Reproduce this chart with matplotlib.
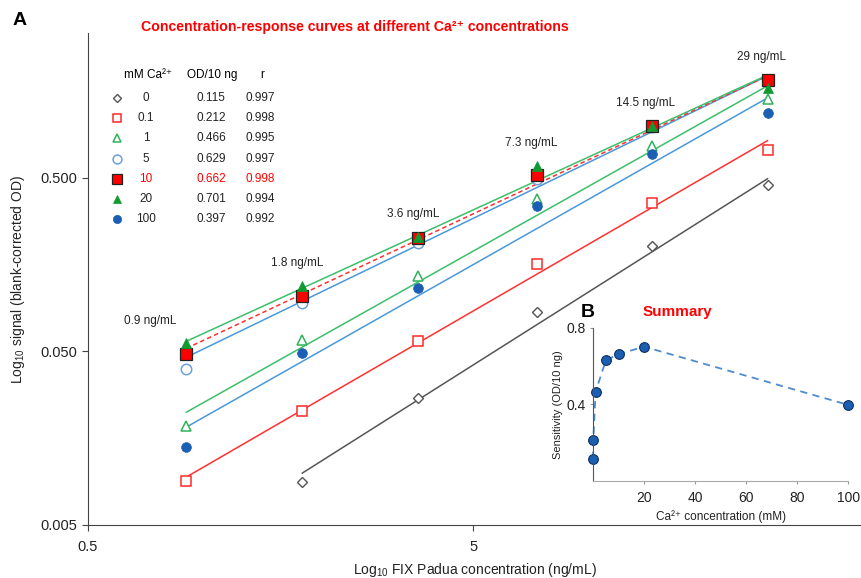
import matplotlib
matplotlib.use('Agg')
import matplotlib.pyplot as plt
import numpy as np

plt.rcParams['font.family'] = ['Liberation Sans', 'DejaVu Sans']
plt.rcParams['mathtext.fontset'] = 'custom'
plt.rcParams['mathtext.rm'] = 'Liberation Sans'
plt.rcParams['mathtext.it'] = 'Liberation Sans'

CA = 'Ca\u00b2\u207a'

# FIX Padua concentrations (ng/mL)
conc = [0.9, 1.8, 3.6, 7.3, 14.5, 29]
conc_labels = ['0.9 ng/mL', '1.8 ng/mL', '3.6 ng/mL', '7.3 ng/mL', '14.5 ng/mL', '29 ng/mL']

# mM Ca2+ groups
ca_mM = ['0', '0.1', '1', '5', '10', '20', '100']
od10 = ['0.115', '0.212', '0.466', '0.629', '0.662', '0.701', '0.397']
r_val = ['0.997', '0.998', '0.995', '0.997', '0.998', '0.994', '0.992']

# blank-corrected OD (None = no point)
sig_0 = [None, 0.0088, 0.0269, 0.0838, 0.203, 0.456]
sig_01 = [0.00895, 0.0226, 0.0571, 0.160, 0.359, 0.724]
sig_1 = [0.0185, 0.0578, 0.135, 0.378, 0.764, 1.42]
sig_5 = [0.0394, 0.0944, 0.209, 0.490, 0.982, 1.80]
sig_10 = [0.0480, 0.1036, 0.226, 0.520, 0.995, 1.83]
sig_20 = [0.0556, 0.1197, 0.229, 0.586, 0.995, 1.64]
sig_100 = [0.01404, 0.0487, 0.1151, 0.345, 0.687, 1.18]

# regression line ends (signal at first and last concentration)
fit_x0 = [1.8, 0.9, 0.9, 0.9, 0.9, 0.9, 0.9]
fit_0 = [0.00995, 0.00944, 0.0223, 0.0462, 0.0520, 0.0571, 0.0183]
fit_29 = [0.493, 0.817, 1.69, 1.93, 1.93, 1.95, 1.44]

# summary: sensitivity vs Ca2+
ca_num = [0, 0.1, 1, 5, 10, 20, 100]
sens = [0.115, 0.212, 0.466, 0.629, 0.662, 0.701, 0.397]

signals = [sig_0, sig_01, sig_1, sig_5, sig_10, sig_20, sig_100]
styles = [
    dict(marker='D', ms=5, mfc='white', mec='#555555', mew=1.0),
    dict(marker='s', ms=7.5, mfc='white', mec='#ff2a2a', mew=1.1),
    dict(marker='^', ms=7.5, mfc='white', mec='#2eb35a', mew=1.1),
    dict(marker='o', ms=7.5, mfc='white', mec='#6e9fd6', mew=1.1),
    dict(marker='s', ms=8, mfc='#ff0000', mec='#222222', mew=0.9),
    dict(marker='^', ms=7.5, mfc='#109a30', mec='#109a30', mew=0.5),
    dict(marker='o', ms=7, mfc='#1a5fb4', mec='#1a5fb4', mew=0.5),
]
line_cols = ['#555555', '#ff3030', '#3cbf6a', '#4a98dc', '#ff3030', '#3cbf6a', '#4a98dc']
line_ls = ['-', '-', '-', '-', (0, (3, 2)), '-', '-']

fig = plt.figure(figsize=(8.62, 5.78), dpi=100)
ax = fig.add_axes([0.102, 0.0917, 0.898, 0.851])

for i in range(len(signals)):
    ax.plot([fit_x0[i], 29], [fit_0[i], fit_29[i]], color=line_cols[i],
            ls=line_ls[i], lw=1.1, zorder=2)
draw_order = [0, 1, 2, 3, 6, 5, 4]
for i in draw_order:
    xs = [c for c, s in zip(conc, signals[i]) if s is not None]
    ys = [s for s in signals[i] if s is not None]
    ax.plot(xs, ys, ls='none', zorder=3 + i * 0.1, **styles[i])

# concentration labels above the top point
for j, lab in enumerate(conc_labels):
    top = max(s[j] for s in signals if s[j] is not None)
    dx = -26 if j == 0 else -4
    ax.annotate(lab, (conc[j], top), xytext=(dx, 12), textcoords='offset points',
                ha='center', va='bottom', fontsize=8.5, color='#222222')

ax.set_xscale('log')
ax.set_yscale('log')
ax.set_xlim(0.5, 51)
ax.set_ylim(0.005, 3.4)
ax.set_xticks([0.5, 5])
ax.set_xticklabels(['0.5', '5'])
ax.set_yticks([0.005, 0.05, 0.5])
ax.set_yticklabels(['0.005', '0.050', '0.500'])
ax.minorticks_off()
ax.tick_params(labelsize=10.5, length=4, color='#444444', labelcolor='#222222')
ax.tick_params(axis='x', pad=7)
for s in ['top', 'right']:
    ax.spines[s].set_visible(False)
for s in ['left', 'bottom']:
    ax.spines[s].set_color('#444444')
ax.set_xlabel('Log$_{10}$ FIX Padua concentration (ng/mL)', fontsize=10, color='#222222', labelpad=5)
ax.set_ylabel('Log$_{10}$ signal (blank-corrected OD)', fontsize=10, color='#222222', labelpad=10)

# legend table
fs_t = 8.5
ax.text(0.078, 0.915, 'mM ' + CA, transform=ax.transAxes, ha='center', va='center', fontsize=fs_t)
ax.text(0.160, 0.915, 'OD/10 ng', transform=ax.transAxes, ha='center', va='center', fontsize=fs_t)
ax.text(0.225, 0.915, 'r', transform=ax.transAxes, ha='center', va='center', fontsize=fs_t)
for i in range(len(ca_mM)):
    y = 0.868 - i * 0.041
    st = dict(styles[i])
    st['ms'] = st['ms'] * 0.85
    ax.plot([0.0375], [y], transform=ax.transAxes, ls='none', clip_on=False, **st)
    col = '#ff0000' if ca_mM[i] == '10' else '#222222'
    ax.text(0.075, y, ca_mM[i], transform=ax.transAxes, ha='center', va='center', fontsize=fs_t, color=col)
    ax.text(0.159, y, od10[i], transform=ax.transAxes, ha='center', va='center', fontsize=fs_t, color=col)
    ax.text(0.222, y, r_val[i], transform=ax.transAxes, ha='center', va='center', fontsize=fs_t, color=col)

fig.text(0.014, 0.965, 'A', fontsize=14, fontweight='bold', va='center')
fig.text(0.412, 0.953, 'Concentration-response curves at different ' + CA + ' concentrations',
         fontsize=10.2, fontweight='bold', color='#ff0000', ha='center', va='center')

# inset B
axb = fig.add_axes([0.688, 0.168, 0.296, 0.265])
axb.patch.set_alpha(0)
axb.plot(ca_num, sens, ls=(0, (4, 3)), color='#4f8bcf', lw=1.3, marker='o', ms=7,
         mfc='#1a5fb4', mec='#0d2f5c', mew=0.8, clip_on=False)
axb.set_xlim(0, 100)
axb.set_ylim(0, 0.8)
axb.set_xticks([20, 40, 60, 80, 100])
axb.set_yticks([0.4, 0.8])
axb.set_yticklabels(['0.4', '0.8'])
axb.tick_params(labelsize=10, length=2, color='#999999', labelcolor='#222222', pad=3)
axb.tick_params(axis='x', pad=5)
for s in ['top', 'right']:
    axb.spines[s].set_visible(False)
axb.spines['left'].set_color('#555555')
axb.spines['bottom'].set_color('#aaaaaa')
axb.set_xlabel(CA + ' concentration (mM)', fontsize=8.5, color='#222222', labelpad=4)
axb.set_ylabel('Sensitivity (OD/10 ng)', fontsize=8, color='#222222', labelpad=3)
fig.text(0.682, 0.46, 'B', fontsize=14, fontweight='bold', va='center', ha='center')
fig.text(0.786, 0.46, 'Summary', fontsize=11, fontweight='bold', color='#ff0000',
         va='center', ha='center')

fig.savefig('out.png', dpi=100)
